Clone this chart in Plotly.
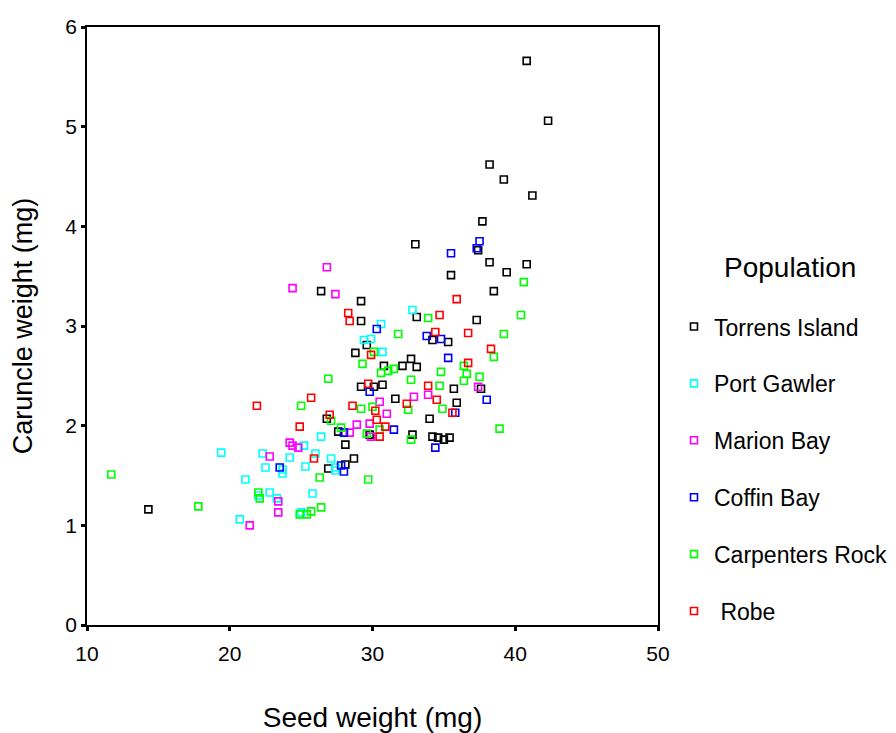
import plotly.graph_objects as go

# Seed weight (mg) and caruncle weight (mg) per population
torrens_x = [14.3, 40.8, 42.3, 38.2, 39.2, 41.2, 37.7, 33.0, 35.5, 37.4, 38.2, 40.8, 39.4, 38.5, 37.3,
             26.4, 29.2, 33.1, 29.2, 34.2, 35.3, 29.6, 28.8, 32.7, 32.1, 33.1, 30.8, 29.2, 30.1, 30.7,
             35.7, 31.6, 35.9, 37.6, 26.8, 34.0, 27.6, 29.8, 32.8, 34.2, 34.6, 35.0, 35.4, 28.1, 28.7,
             28.1, 26.9]
torrens_y = [1.16, 5.66, 5.06, 4.62, 4.47, 4.31, 4.05, 3.82, 3.51, 3.76, 3.64, 3.62, 3.54, 3.35, 3.06,
             3.35, 3.25, 3.09, 3.05, 2.86, 2.84, 2.81, 2.73, 2.67, 2.60, 2.59, 2.60, 2.39, 2.39, 2.41,
             2.37, 2.27, 2.23, 2.37, 2.07, 2.07, 1.94, 1.91, 1.91, 1.89, 1.88, 1.86, 1.88, 1.81, 1.67,
             1.61, 1.57]

gawler_x = [19.4, 22.3, 22.5, 21.1, 22.0, 22.8, 23.3, 20.7, 23.7, 23.7, 24.2, 25.2, 26.0, 25.3, 26.4,
            27.1, 27.4, 27.4, 25.8, 25.0, 32.8, 30.6, 29.4, 29.9, 30.7]
gawler_y = [1.73, 1.72, 1.58, 1.46, 1.30, 1.33, 1.27, 1.06, 1.56, 1.52, 1.68, 1.80, 1.72, 1.59, 1.89,
            1.67, 1.58, 1.55, 1.32, 1.13, 3.16, 3.02, 2.86, 2.87, 2.74]

marion_x = [26.8, 24.4, 27.4, 32.9, 33.9, 30.5, 31.0, 29.8, 28.9, 28.4, 29.9, 24.2, 24.4, 24.8, 22.8,
            23.4, 23.4, 21.4, 37.4]
marion_y = [3.59, 3.38, 3.32, 2.29, 2.31, 2.24, 2.12, 2.02, 2.01, 1.93, 1.89, 1.83, 1.80, 1.78, 1.69,
            1.24, 1.13, 1.00, 2.39]

coffin_x = [35.5, 37.5, 37.3, 30.3, 33.8, 34.8, 35.3, 29.8, 35.8, 31.5, 28.0, 34.4, 27.8, 28.0, 23.5,
            38.0]
coffin_y = [3.73, 3.85, 3.78, 2.97, 2.90, 2.87, 2.68, 2.34, 2.13, 1.96, 1.93, 1.78, 1.60, 1.54, 1.58,
            2.26]

carpenters_x = [11.7, 17.8, 22.0, 22.1, 26.3, 29.7, 25.7, 26.4, 24.9, 25.4, 25.0, 26.9, 33.9, 31.8, 30.1,
                29.3, 30.6, 31.1, 31.5, 34.8, 36.4, 36.6, 36.4, 37.5, 32.7, 34.7, 29.2, 30.0, 32.5, 34.9,
                27.1, 27.8, 30.5, 29.6, 32.7, 38.9, 40.6, 40.4, 39.2, 38.5]
carpenters_y = [1.51, 1.19, 1.33, 1.27, 1.48, 1.46, 1.14, 1.18, 1.11, 1.11, 2.20, 2.47, 3.08, 2.92, 2.74,
                2.62, 2.53, 2.55, 2.57, 2.54, 2.60, 2.52, 2.45, 2.49, 2.46, 2.40, 2.17, 2.19, 2.16, 2.17,
                2.05, 1.98, 1.96, 1.92, 1.86, 1.97, 3.44, 3.11, 2.92, 2.69]

robe_x = [21.9, 35.9, 34.7, 28.3, 28.4, 34.4, 36.7, 29.9, 38.3, 36.7, 29.7, 33.9, 25.7, 34.5, 28.6,
          30.2, 32.4, 35.6, 27.0, 30.3, 30.9, 24.9, 30.5, 25.9]
robe_y = [2.20, 3.27, 3.11, 3.13, 3.05, 2.94, 2.93, 2.71, 2.77, 2.63, 2.42, 2.40, 2.28, 2.26, 2.20,
          2.15, 2.22, 2.13, 2.11, 2.06, 1.99, 1.99, 1.89, 1.67]

populations = ["Torrens Island", "Port Gawler", "Marion Bay", "Coffin Bay", "Carpenters Rock", "\u00a0Robe"]
colors = ["#000000", "#00FFFF", "#FF00FF", "#0000FF", "#00FF00", "#FF0000"]
series = [(torrens_x, torrens_y), (gawler_x, gawler_y), (marion_x, marion_y),
          (coffin_x, coffin_y), (carpenters_x, carpenters_y), (robe_x, robe_y)]

x_ticks = [10, 20, 30, 40, 50]
y_ticks = [0, 1, 2, 3, 4, 5, 6]

FONT = "Liberation Sans, Arial, sans-serif"

fig = go.Figure()
for name, color, (xs, ys) in zip(populations, colors, series):
    fig.add_trace(go.Scatter(
        x=xs, y=ys, mode="markers", name=name, legendgroup=name,
        marker=dict(symbol="square-open", size=7, color=color, line=dict(width=1.6, color=color)),
    ))

axis_common = dict(
    showline=True, mirror=True, linecolor="black", linewidth=1.5,
    showgrid=False, zeroline=False,
    ticks="outside", ticklen=4, tickwidth=3, tickcolor="black",
    tickfont=dict(family=FONT, size=21, color="black"),
)

fig.update_xaxes(range=[10, 50], tickvals=x_ticks, ticklabelstandoff=5,
                 title=dict(text="Seed weight (mg)", font=dict(family=FONT, size=28, color="black"), standoff=46),
                 **axis_common)
fig.update_yaxes(range=[0, 6], tickvals=y_ticks,
                 title=dict(text="Caruncle weight (mg)", font=dict(family=FONT, size=27, color="black"), standoff=27),
                 **axis_common)

fig.add_annotation(text="Population", x=1.231, y=0.597, xref="paper", yref="paper",
                   xanchor="center", yanchor="middle", showarrow=False,
                   font=dict(family=FONT, size=28, color="black"))

fig.update_layout(
    width=888, height=725,
    margin=dict(l=79, r=238, t=19, b=108, autoexpand=False),
    paper_bgcolor="white", plot_bgcolor="white",
    font=dict(family=FONT, color="black"),
    legend=dict(
        x=1.028, xanchor="left", y=0.535, yanchor="top",
        font=dict(family=FONT, size=23, color="black"),
        tracegroupgap=24, bgcolor="rgba(0,0,0,0)",
    ),
)

fig.write_html("out.html")
